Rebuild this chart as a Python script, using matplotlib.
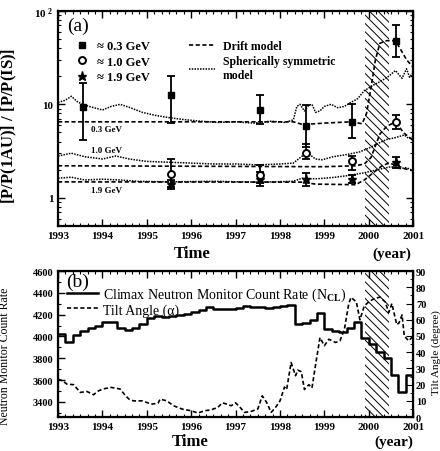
import numpy as np
import matplotlib
matplotlib.use('Agg')
import matplotlib.pyplot as plt
from matplotlib.ticker import MultipleLocator, FixedLocator, LogLocator, NullFormatter
from matplotlib.lines import Line2D

plt.rcParams['font.family'] = ['Liberation Serif', 'DejaVu Serif']
plt.rcParams['font.weight'] = 'bold'
plt.rcParams['mathtext.fontset'] = 'custom'
plt.rcParams['mathtext.rm'] = 'Liberation Serif'
plt.rcParams['mathtext.bf'] = 'Liberation Serif:bold'
plt.rcParams['mathtext.it'] = 'Liberation Serif:italic'
plt.rcParams['hatch.linewidth'] = 0.7

# ---- panel (a): measured ratios ----
t_pts = [1993.56, 1995.54, 1997.55, 1998.59, 1999.62, 2000.61]
r03 = [9.3, 12.5, 8.6, 5.9, 6.5, 48.0]
r03_lo = [4.2, 6.3, 6.1, 3.5, 4.4, 32.0]
r03_hi = [16.8, 20.0, 12.5, 9.8, 10.0, 71.0]

t_pts10 = [1995.54, 1997.55, 1998.59, 1999.62, 2000.61]
r10 = [1.8, 1.75, 3.0, 2.5, 6.4]
r10_lo = [1.25, 1.45, 2.6, 2.0, 5.4]
r10_hi = [2.6, 2.25, 3.8, 2.8, 7.6]

t_pts19 = [1995.54, 1997.55, 1998.59, 1999.62, 2000.61]
r19 = [1.42, 1.6, 1.6, 1.6, 2.4]
r19_lo = [1.3, 1.35, 1.35, 1.45, 2.1]
r19_hi = [1.55, 1.9, 1.85, 1.77, 2.75]

# model curves
drift03_t = [1993.0, 1998.3, 1998.5, 1998.8, 1999.0, 1999.6, 1999.85, 1999.95, 2000.05,
             2000.15, 2000.25, 2000.4, 2000.6, 2000.7, 2000.85, 2001.0]
drift03 = [6.5, 6.5, 6.1, 6.2, 6.3, 6.5, 6.2, 8.0, 15.0, 30.0, 45.0, 48.0, 48.0, 40.0, 30.0, 25.0]

sym03_t = [1993.0, 1993.15, 1993.3, 1993.45, 1993.7, 1994.0, 1994.2, 1994.4, 1994.6, 1994.9,
           1995.2, 1995.5, 1995.8, 1996.2, 1996.6, 1997.0, 1997.4, 1997.8, 1998.1, 1998.3,
           1998.38, 1998.45, 1998.55, 1998.65, 1998.72, 1998.8, 1998.9, 1999.0, 1999.15,
           1999.3, 1999.45, 1999.6, 1999.75, 1999.9, 2000.1, 2000.3, 2000.45, 2000.6,
           2000.75, 2000.85, 2000.92, 2001.0]
sym03 = [10.5, 11.0, 12.2, 10.5, 9.5, 8.7, 9.5, 10.0, 9.3, 8.2,
         7.6, 7.2, 6.9, 6.6, 6.4, 6.5, 6.3, 6.6, 6.4, 6.8,
         9.5, 10.0, 8.5, 9.8, 10.0, 8.2, 8.5, 9.5, 10.0,
         9.2, 9.5, 10.5, 11.5, 14.0, 16.0, 18.0, 20.0, 23.0,
         19.0, 24.0, 19.5, 22.0]

drift10_t = [1993.0, 1999.0, 1999.7, 1999.9, 2000.05, 2000.15, 2000.25, 2000.4, 2000.55,
             2000.65, 2000.8, 2001.0]
drift10 = [2.2, 2.15, 2.2, 2.3, 2.7, 3.6, 4.8, 5.8, 6.3, 6.0, 4.9, 4.1]

sym10_t = [1993.0, 1993.3, 1993.6, 1994.0, 1994.3, 1994.6, 1995.0, 1995.5, 1996.0, 1996.5,
           1997.0, 1997.5, 1998.0, 1998.3, 1998.5, 1998.65, 1998.8, 1998.95, 1999.2, 1999.5,
           1999.8, 2000.0, 2000.2, 2000.4, 2000.6, 2000.8, 2000.9, 2001.0]
sym10 = [2.8, 3.0, 2.75, 2.6, 2.8, 2.6, 2.45, 2.4, 2.35, 2.3,
         2.3, 2.25, 2.3, 2.35, 2.8, 2.95, 2.6, 2.55, 2.75, 2.9,
         3.1, 3.4, 3.8, 4.2, 4.4, 4.7, 4.3, 4.5]

drift19_t = [1993.0, 1998.5, 1998.8, 1999.7, 1999.9, 2000.1, 2000.3, 2000.45, 2000.6,
             2000.8, 2001.0]
drift19 = [1.48, 1.47, 1.4, 1.38, 1.55, 1.85, 2.2, 2.35, 2.25, 2.05, 1.95]

sym19_t = [1993.0, 1993.3, 1993.6, 1994.0, 1994.4, 1994.8, 1995.5, 1996.5, 1997.5, 1998.3,
           1998.5, 1998.65, 1998.85, 1999.2, 1999.5, 1999.9, 2000.2, 2000.5, 2000.7,
           2000.85, 2001.0]
sym19 = [1.62, 1.66, 1.55, 1.58, 1.55, 1.5, 1.48, 1.5, 1.47, 1.5,
         1.62, 1.6, 1.6, 1.65, 1.72, 1.85, 2.0, 2.15, 2.05, 2.1, 1.95]

# ---- panel (b): Climax neutron monitor and tilt angle ----
ncl_t = list(np.arange(1993.0, 2001.01, 1 / 6))
ncl = [4020, 3950, 4010, 4050, 4075, 4100, 4130, 4135, 4080, 4055, 4075, 4110,
       4165, 4190, 4180, 4190, 4200, 4210, 4225, 4245, 4270, 4250, 4255, 4250,
       4265, 4280, 4270, 4275, 4265, 4270, 4280, 4290, 4110, 4120, 4150, 4220,
       4070, 4050, 4045, 4080, 4130, 3990, 3930, 3860, 3800, 3650, 3490, 3650, 3700]

tilt_t = [1993.0, 1993.1, 1993.2, 1993.35, 1993.5, 1993.65, 1993.8, 1993.9, 1994.0, 1994.2,
          1994.4, 1994.5, 1994.6, 1994.7, 1994.9, 1995.1, 1995.25, 1995.3, 1995.45, 1995.6,
          1995.8, 1996.0, 1996.15, 1996.3, 1996.45, 1996.6, 1996.7, 1996.8, 1996.9, 1997.0,
          1997.1, 1997.2, 1997.35, 1997.5, 1997.6, 1997.7, 1997.8, 1997.9, 1998.0, 1998.1,
          1998.15, 1998.25, 1998.35, 1998.4, 1998.48, 1998.55, 1998.65, 1998.72, 1998.8,
          1998.9, 1999.0, 1999.1, 1999.25, 1999.35, 1999.45, 1999.55, 1999.6, 1999.72,
          1999.8, 1999.9, 2000.0, 2000.1, 2000.25, 2000.37, 2000.45, 2000.52, 2000.63,
          2000.68, 2000.75, 2000.8, 2000.9, 2001.0]
tilt = [23.4, 22.4, 20.3, 20.0, 15.2, 15.8, 13.8, 16.0, 17.3, 18.3,
        17.3, 13.8, 11.0, 10.0, 10.0, 8.0, 8.5, 11.1, 10.0, 7.0,
        4.9, 3.9, 2.5, 3.9, 4.5, 6.0, 8.8, 8.0, 7.0, 8.8,
        6.0, 2.9, 3.5, 5.0, 13.1, 9.0, 2.9, 6.0, 10.0, 18.5,
        17.0, 33.7, 25.5, 29.0, 28.0, 17.0, 20.0, 18.0, 32.0,
        49.0, 44.0, 48.0, 46.0, 47.0, 54.0, 70.0, 73.8, 71.0,
        60.0, 68.6, 71.0, 72.7, 74.0, 71.0, 64.5, 70.0, 57.0,
        58.0, 63.0, 50.0, 47.0, 50.0]

hatch_span = (1999.92, 2000.45)

fig = plt.figure(figsize=(4.4, 4.52), dpi=100)
ax = fig.add_axes([0.132, 0.498, 0.807, 0.4757])
axb = fig.add_axes([0.132, 0.075, 0.807, 0.323])


def style_x(a):
    a.set_xlim(1993, 2001)
    a.xaxis.set_major_locator(MultipleLocator(1))
    a.xaxis.set_minor_locator(MultipleLocator(1 / 6))
    a.tick_params(axis='both', which='both', direction='in', top=True, labelsize=8)
    a.tick_params(which='major', length=5, width=1)
    a.tick_params(which='minor', length=2.5, width=0.8)
    for s in a.spines.values():
        s.set_linewidth(1.6)


# ---- top panel ----
ax.axvspan(*hatch_span, facecolor='none', edgecolor='k', hatch='\\\\\\\\', lw=0)
dash = (0, (2.5, 1.5))
ax.plot(drift03_t, drift03, color='k', lw=1.2, ls=dash)
ax.plot(drift10_t, drift10, color='k', lw=1.2, ls=dash)
ax.plot(drift19_t, drift19, color='k', lw=1.2, ls=dash)
ax.plot(sym03_t, sym03, color='k', lw=1.1, ls=(0, (1, 0.8)))
ax.plot(sym10_t, sym10, color='k', lw=1.1, ls=(0, (1, 0.8)))
ax.plot(sym19_t, sym19, color='k', lw=1.1, ls=(0, (1, 0.8)))

def errbar(t, v, lo, hi, **kw):
    v = np.array(v); lo = np.array(lo); hi = np.array(hi)
    ax.errorbar(t, v, yerr=[v - lo, hi - v], fmt='none', ecolor='k', elinewidth=1.3,
                capsize=3, capthick=1.3)
    return ax.plot(t, v, ls='none', **kw)[0]

h03 = errbar(t_pts, r03, r03_lo, r03_hi, marker='s', ms=5, color='k')
h19 = errbar(t_pts19, r19, r19_lo, r19_hi, marker='*', ms=6.5, color='k')
h10 = errbar(t_pts10, r10, r10_lo, r10_hi, marker='o', ms=5, mfc='white', mec='k', mew=1.4)

ax.set_yscale('log')
ax.set_ylim(0.5, 100)
ax.yaxis.set_major_locator(FixedLocator([1, 10, 100]))
ax.set_yticklabels(['1', '10', r'$\mathbf{10}^{\ \mathbf{2}}$'])
ax.yaxis.set_minor_locator(LogLocator(base=10, subs=np.arange(2, 10)))
ax.yaxis.set_minor_formatter(NullFormatter())
style_x(ax)
ax.tick_params(axis='y', which='both', right=True)
ax.set_ylabel(r'$\mathbf{[\bar{P}/P(1AU)]\ /\ [\bar{P}/P(IS)]}$', fontsize=12)
ax.yaxis.set_label_coords(-0.107, 0.47)

ax.text(1994.1, 5.4, '0.3 GeV', fontsize=6.5, ha='center', va='center')
ax.text(1994.1, 3.28, '1.0 GeV', fontsize=6.5, ha='center', va='center')
ax.text(1994.1, 1.22, '1.9 GeV', fontsize=6.5, ha='center', va='center')
ax.text(0.056, 0.935, '(a)', transform=ax.transAxes, fontsize=14, fontweight='normal',
        ha='center', va='center')
ax.text(0.377, -0.126, 'Time', transform=ax.transAxes, fontsize=12, ha='center', va='center')
ax.text(0.94, -0.126, '(year)', transform=ax.transAxes, fontsize=11, ha='center', va='center')

leg1 = ax.legend([h03, h10, h19], ['≈ 0.3 GeV', '≈ 1.0 GeV', '≈ 1.9 GeV'],
                 loc='upper left', bbox_to_anchor=(0.045, 0.865), frameon=False,
                 fontsize=9, handlelength=1.2, handletextpad=0.6, labelspacing=0.3,
                 borderpad=0, borderaxespad=0)
ax.add_artist(leg1)
lh = [Line2D([], [], color='k', lw=1.2, ls=dash), Line2D([], [], color='k', lw=1.1, ls=(0, (1, 0.8)))]
ax.legend(lh, ['Drift model', 'Spherically symmetric\nmodel'], loc='upper left',
          bbox_to_anchor=(0.37, 0.865), frameon=False, fontsize=8.5, handlelength=2.2,
          handletextpad=0.6, labelspacing=0.3, borderpad=0, borderaxespad=0)

# ---- bottom panel ----
axb.axvspan(*hatch_span, facecolor='none', edgecolor='k', hatch='\\\\\\\\', lw=0)
l1, = axb.plot(ncl_t, ncl, color='k', lw=1.8, drawstyle='steps-post')
axb.set_ylim(3260, 4600)
axb.yaxis.set_major_locator(MultipleLocator(200))
axb.yaxis.set_minor_locator(MultipleLocator(100))
style_x(axb)
axb.tick_params(axis='y', labelsize=7.5)
axb.set_ylabel('Neutron Monitor Count Rate', fontsize=8.5)
axb.yaxis.set_label_coords(-0.133, 0.42)

ax2 = axb.twinx()
l2, = ax2.plot(tilt_t, tilt, color='k', lw=1.2, ls=dash)
ax2.set_ylim(0, 90)
ax2.yaxis.set_major_locator(MultipleLocator(10))
ax2.yaxis.set_minor_locator(MultipleLocator(5))
ax2.tick_params(axis='y', which='both', direction='in', labelsize=7.5, pad=2)
ax2.tick_params(which='major', length=5)
ax2.tick_params(which='minor', length=2.5)
ax2.set_ylabel('Tilt Angle (degree)', fontsize=8)
ax2.yaxis.set_label_coords(1.05, 0.45)

axb.text(0.056, 0.93, '(b)', transform=axb.transAxes, fontsize=14, fontweight='normal',
         ha='center', va='center')
axb.text(0.372, -0.164, 'Time', transform=axb.transAxes, fontsize=12, ha='center', va='center')
axb.text(0.946, -0.164, '(year)', transform=axb.transAxes, fontsize=11, ha='center', va='center')
axb.legend([l1, l2], [r'Climax Neutron Monitor Count Rate (N$_{\rm CL}$)', 'Tilt Angle (α)'],
           loc='upper left', bbox_to_anchor=(0.025, 0.9), frameon=False,
           prop={'size': 10, 'weight': 'normal'}, handlelength=2.2, handletextpad=0.4,
           labelspacing=0.0, borderpad=0, borderaxespad=0)

fig.savefig('out.png', dpi=100)
